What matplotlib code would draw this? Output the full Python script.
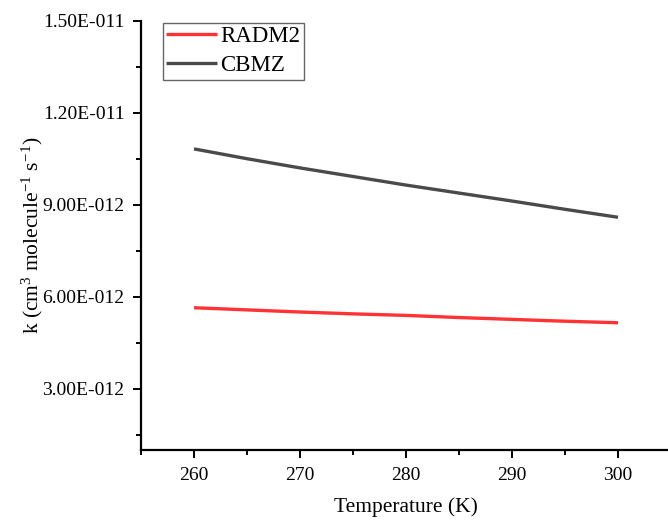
import matplotlib
matplotlib.use("Agg")
import matplotlib.pyplot as plt
from matplotlib.ticker import MultipleLocator

plt.rcParams['font.family'] = ['Liberation Serif', 'DejaVu Serif']
plt.rcParams['mathtext.fontset'] = 'custom'
plt.rcParams['mathtext.rm'] = 'Liberation Serif'
plt.rcParams['mathtext.it'] = 'Liberation Serif:italic'
plt.rcParams['mathtext.default'] = 'regular'

temperature = [260, 265, 270, 275, 280, 285, 290, 295, 300]
radm2 = [5.64e-12, 5.57e-12, 5.50e-12, 5.44e-12, 5.39e-12, 5.32e-12, 5.26e-12, 5.20e-12, 5.15e-12]
cbmz = [10.82e-12, 10.50e-12, 10.20e-12, 9.92e-12, 9.64e-12, 9.38e-12, 9.12e-12, 8.85e-12, 8.59e-12]
series_names = ["RADM2", "CBMZ"]
yticks = [3e-12, 6e-12, 9e-12, 1.2e-11, 1.5e-11]
ytick_labels = ["3.00E-012", "6.00E-012", "9.00E-012", "1.20E-011", "1.50E-011"]
xticks = [260, 270, 280, 290, 300]

fig = plt.figure(figsize=(6.68, 5.22), dpi=100)
ax = fig.add_axes([0.2111, 0.1379, 1.0045 - 0.2111, 0.9603 - 0.1379])

ax.plot(temperature, radm2, color='#ff3333', lw=2.4, label=series_names[0], solid_capstyle='butt')
ax.plot(temperature, cbmz, color='#4a4a4a', lw=2.4, label=series_names[1], solid_capstyle='butt')

ax.set_xlim(255, 305)
ax.set_ylim(1e-12, 1.5e-11)
ax.set_xticks(xticks)
ax.set_yticks(yticks)
ax.set_yticklabels(ytick_labels)
ax.xaxis.set_minor_locator(MultipleLocator(5))
ax.yaxis.set_minor_locator(MultipleLocator(1.5e-12))

for s in ['top', 'right']:
    ax.spines[s].set_visible(False)
for s in ['left', 'bottom']:
    ax.spines[s].set_linewidth(1.6)

ax.tick_params(which='major', direction='out', length=6, width=1.4, labelsize=14, pad=6)
ax.tick_params(which='minor', direction='out', length=3.5, width=1.4)

ax.set_xlabel("Temperature (K)", fontsize=15.5, labelpad=10)
ax.set_ylabel("k (cm$^{3}$ molecule$^{-1}$ s$^{-1}$)", fontsize=15.5, labelpad=-2)

leg = ax.legend(loc='upper left', bbox_to_anchor=(0.0415, 0.995), fontsize=16.5,
                frameon=True, fancybox=False, edgecolor='#666666', framealpha=1,
                handlelength=2.2, handletextpad=0.15, borderpad=0.15, labelspacing=0.35,
                borderaxespad=0)
leg.get_frame().set_linewidth(1.0)

fig.savefig("out.png", dpi=100)
